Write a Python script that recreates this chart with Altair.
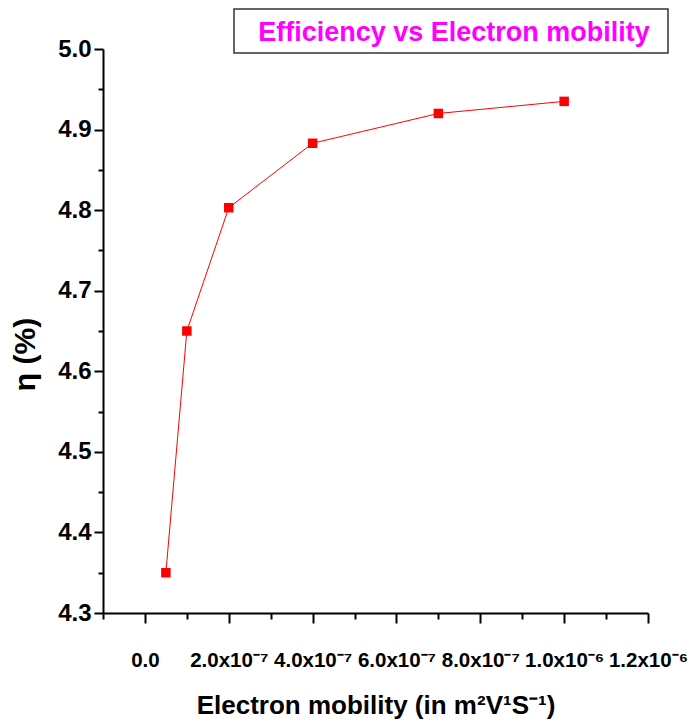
import altair as alt
import pandas as pd

# data
mobility = [5e-8, 1e-7, 2e-7, 4e-7, 7e-7, 1e-6]
efficiency = [4.35, 4.65, 4.803, 4.883, 4.920, 4.935]

x_tick_values = [i * 1e-7 for i in range(-1, 13)]
x_tick_labels = ["", "0.0", "", "2.0x10⁻⁷", "", "4.0x10⁻⁷", "", "6.0x10⁻⁷", "",
                 "8.0x10⁻⁷", "", "1.0x10⁻⁶", "", "1.2x10⁻⁶"]
y_tick_values = [round(4.3 + 0.05 * i, 2) for i in range(15)]

title_text = "Efficiency vs Electron mobility"
x_title = "Electron mobility (in m²V¹S⁻¹)"
y_title = "η (%)"

df = pd.DataFrame({"mobility": mobility, "efficiency": efficiency})

SANS = "Liberation Sans, Arial, sans-serif"

label_array = "[" + ",".join('"%s"' % s for s in x_tick_labels) + "]"

x_enc = alt.X(
    "mobility:Q",
    scale=alt.Scale(domain=[-1e-7, 1.2e-6], nice=False, zero=False),
    axis=alt.Axis(
        values=x_tick_values,
        labelExpr=label_array + "[round(datum.value*1e7)+1]",
        title=x_title,
        titleFont=SANS,
        titleFontSize=26,
        titleFontWeight="bold",
        titleBaseline="alphabetic",
        titleY=100,
        labelFont=SANS,
        labelFontSize=20.5,
        labelFontWeight="bold",
        labelColor="black",
        labelPadding=27,
        labelFlush=False,
        labelOverlap=False,
        domainColor="black",
        domainWidth=2,
        tickColor="black",
        tickWidth=2,
        tickSize={"condition": {"test": "round(datum.value*1e7) % 2 == 0", "value": 10}, "value": 6},
        grid=False,
    ),
)

y_enc = alt.Y(
    "efficiency:Q",
    scale=alt.Scale(domain=[4.3, 5.0], nice=False, zero=False),
    axis=alt.Axis(
        values=y_tick_values,
        labelExpr="round(datum.value*20) % 2 == 0 ? format(datum.value, '.1f') : ''",
        title=y_title,
        titleFont=SANS,
        titleFontSize=30,
        titleFontWeight="bold",
        titleBaseline="alphabetic",
        titleX=-69,
        titleY=305,
        labelFont=SANS,
        labelFontSize=24,
        labelFontWeight="bold",
        labelColor="black",
        labelPadding=3,
        labelFlush=False,
        labelOverlap=False,
        domainColor="black",
        domainWidth=2,
        tickColor="black",
        tickWidth=2,
        tickSize={"condition": {"test": "round(datum.value*20) % 2 == 0", "value": 9}, "value": 5},
        grid=False,
    ),
)

line = alt.Chart(df).mark_line(color="#ff0000", strokeWidth=1).encode(x=x_enc, y=y_enc)
pts = alt.Chart(df).mark_point(shape="square", filled=True, size=90, color="#ff0000", opacity=1).encode(
    x="mobility:Q", y="efficiency:Q"
)

box_df = pd.DataFrame({"t": [title_text]})
box = alt.Chart(box_df).mark_rect(fill="white", stroke="#333333", strokeWidth=1.5).encode(
    x=alt.value(131), x2=alt.value(565), y=alt.value(-40), y2=alt.value(4)
)
ttl = alt.Chart(box_df).mark_text(
    font=SANS, fontSize=27, fontWeight="bold", color="#ff00ff", align="center", baseline="alphabetic"
).encode(x=alt.value(351), y=alt.value(-8), text="t:N")

chart = (
    alt.layer(line, pts, box, ttl)
    .properties(
        width=545,
        height=564,
        autosize=alt.AutoSizeParams(type="none"),
        padding={"left": 95, "top": 41, "right": 39, "bottom": 110},
        view=alt.ViewBackground(stroke="transparent", strokeOpacity=0, strokeWidth=0),
    )
    .configure_view(stroke="transparent", strokeOpacity=0, strokeWidth=0)
    .configure(background="white")
)

chart.save("out.html", embed_options={"renderer": "svg", "actions": False})
